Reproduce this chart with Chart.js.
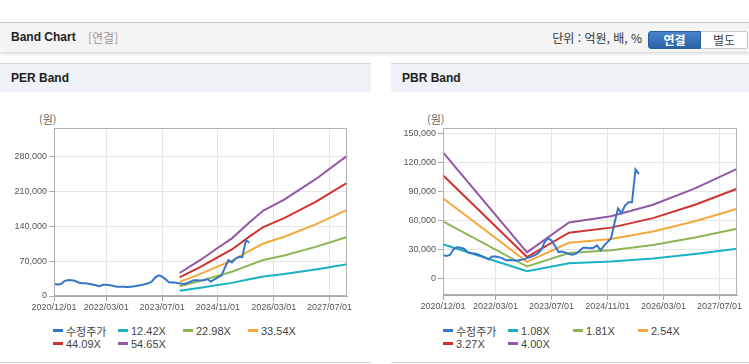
<!DOCTYPE html>
<html lang="ko">
<head>
<meta charset="utf-8">
<title>Band Chart</title>
<script src="https://cdn.jsdelivr.net/npm/chart.js@4.4.1/dist/chart.umd.min.js"></script>
<style>
  * { margin: 0; padding: 0; box-sizing: border-box; }
  html, body { width: 749px; height: 364px; overflow: hidden; background: #fff; }
  body { position: relative; font-family: "Liberation Sans", Arial, "Noto Sans CJK KR", sans-serif; color: #333; }

  /* Top bar */
  .band-head { position: absolute; left: 0; top: 22px; width: 749px; height: 30px; background: #f4f4f4; border-top: 1px solid #c4c4c4; box-shadow: 0 2px 3px rgba(0, 0, 0, 0.15); }
  .band-title { position: absolute; left: 11px; top: 0; line-height: 29px; font-size: 12px; font-weight: bold; color: #222; }
  .band-sub { position: absolute; left: 88px; top: 0; line-height: 29px; font-size: 12px; color: #999; font-family: "Noto Sans CJK KR", sans-serif; }
  .unit { position: absolute; right: 107px; top: 0; line-height: 29px; font-size: 12px; color: #333; font-family: "Noto Sans CJK KR", sans-serif; }
  .tab { position: absolute; top: 8px; height: 18px; line-height: 16px; font-size: 12px; text-align: center; font-family: "Noto Sans CJK KR", sans-serif; }
  .tab.on { left: 648px; width: 53px; background: linear-gradient(#4784ca, #2a62a7); border: 1px solid #285d9e; border-radius: 3px 0 0 3px; color: #fff; font-weight: bold; }
  .tab.off { left: 701px; width: 47px; background: #fff; border: 1px solid #c8c8c8; border-left: 0; border-radius: 0 3px 3px 0; color: #444; }

  /* Panels */
  .panel { position: absolute; top: 63px; height: 300px; background: #fff; border-top: 1px solid #d8d8d8; border-bottom: 1px solid #d0d0d0; }
  .panel-head { height: 28px; background: #eef1f6; padding-left: 11px; line-height: 28px; font-size: 12px; font-weight: bold; color: #222; }
  .panel canvas { position: absolute; left: 0; top: 28px; }
  .unit-label { position: absolute; top: 48px; line-height: 14px; font-size: 11px; color: #666; font-family: "Noto Sans CJK KR", sans-serif; }
  .legend { position: absolute; top: 260px; display: grid; grid-template-columns: repeat(4, 65px); grid-auto-rows: 13px; font-size: 11px; color: #444; }
  .legend-item { display: flex; align-items: center; white-space: nowrap; }
  .legend-item i { display: inline-block; width: 10px; height: 3px; margin-right: 3px; }
</style>
</head>
<body>
  <div class="band-head">
    <span class="band-title">Band Chart</span>
    <span class="band-sub">[연결]</span>
    <span class="unit">단위 : 억원, 배, %</span>
    <span class="tab on">연결</span>
    <span class="tab off">별도</span>
  </div>

  <div class="panel" style="left: 0; width: 371px;">
    <div class="panel-head">PER Band</div>
    <span class="unit-label" style="left: 39px;">(원)</span>
    <canvas id="perChart" width="371" height="224"></canvas>
    <div class="legend" id="perLegend" style="left: 53px;"></div>
  </div>

  <div class="panel" style="left: 391px; width: 358px;">
    <div class="panel-head">PBR Band</div>
    <span class="unit-label" style="left: 36px;">(원)</span>
    <canvas id="pbrChart" width="358" height="224"></canvas>
    <div class="legend" id="pbrLegend" style="left: 52px;"></div>
  </div>

<script>
// Monthly categories, 2020/12 .. 2027/12
const monthLabels = [];
for (let i = 0; i < 85; i++) {
  const year = 2020 + Math.floor((11 + i) / 12);
  const month = (11 + i) % 12 + 1;
  monthLabels.push(year + '/' + String(month).padStart(2, '0') + '/01');
}

// Dates shown on the x axis
const xTickLabels = ['2020/12/01', '2022/03/01', '2023/07/01', '2024/11/01', '2026/03/01', '2027/07/01'];

// Y axis ticks
const perYTicks = [0, 70000, 140000, 210000, 280000];
const pbrYTicks = [0, 30000, 60000, 90000, 120000, 150000];

// 수정주가, monthly from 2020/12 to 2025/08
const priceValues = [
  24000, 23000, 24000, 30000, 32000, 31500, 30500, 27000, 25800, 25500, 24500, 23000,
  21500, 19500, 22500, 22400, 21800, 20500, 18500, 18800, 18500, 18000, 18800, 19500,
  20800, 22000, 23500, 25500, 29000, 37000, 41500, 39000, 33500, 27000, 27500, 26500,
  25000, 24200, 25500, 28500, 31500, 31500, 31000, 31500, 34000, 29000, 33500, 37500,
  41000, 57000, 72000, 67500, 75000, 78500, 78500, 112500, 107500
];

// PER band lines
const perBandMonths = ['2023/12/01', '2024/06/01', '2024/11/01', '2025/03/01', '2025/08/01', '2025/12/01', '2026/06/01', '2027/03/01', '2027/12/01'];
const per1242 = [10500, 16500, 22000, 26400, 33600, 39100, 44100, 53400, 64100];
const per2298 = [19500, 30500, 40800, 48800, 62200, 72300, 81600, 98800, 118600];
const per3354 = [28400, 44500, 59500, 71200, 90800, 105600, 119100, 144200, 173100];
const per4409 = [37300, 58500, 78300, 93600, 119400, 138800, 156500, 189600, 227500];
const per5465 = [46300, 72500, 97000, 116000, 148000, 172000, 194000, 235000, 282000];

// PBR band lines
const pbrBandMonths = ['2020/12/01', '2022/12/01', '2023/12/01', '2024/12/01', '2025/12/01', '2026/12/01', '2027/12/01'];
const pbr108 = [35100, 7200, 15600, 17300, 20500, 25100, 30500];
const pbr181 = [58800, 12100, 26100, 29000, 34400, 42000, 51100];
const pbr254 = [82600, 17000, 36600, 40600, 48300, 58900, 71800];
const pbr327 = [106300, 21900, 47100, 52300, 62100, 75900, 92400];
const pbr400 = [130000, 26800, 57600, 64000, 76000, 92800, 113000];

const colors = {
  price: '#3577c6',
  teal: '#1bb1c5',
  green: '#8cb553',
  orange: '#f5a83c',
  red: '#d0332f',
  purple: '#9257a6'
};

const tickFont = { family: 'Liberation Sans', size: 9 };

// Box around the plot area
const plotFrame = {
  id: 'plotFrame',
  afterDraw(chart) {
    const { ctx, chartArea } = chart;
    const l = Math.round(chartArea.left) + 0.5;
    const t = Math.round(chartArea.top) + 0.5;
    const r = Math.round(chartArea.right) - 0.5;
    const b = Math.round(chartArea.bottom) - 0.5;
    ctx.save();
    ctx.strokeStyle = '#b2b2b2';
    ctx.lineWidth = 1;
    ctx.strokeRect(l, t, r - l, b - t);
    ctx.restore();
  }
};

function bandPoints(months, values) {
  return months.map((m, i) => ({ x: m, y: values[i] }));
}

function line(label, data, color) {
  return { label: label, data: data, borderColor: color, backgroundColor: color, borderWidth: 2, pointRadius: 0, tension: 0, fill: false };
}

function buildChart(canvasId, cfg) {
  return new Chart(document.getElementById(canvasId), {
    type: 'line',
    data: { labels: monthLabels, datasets: cfg.datasets },
    options: {
      responsive: false,
      animation: false,
      events: [],
      layout: { padding: { left: 0, right: cfg.padRight, top: 36, bottom: 0 } },
      plugins: { legend: { display: false }, tooltip: { enabled: false } },
      scales: {
        x: {
          ticks: { autoSkip: false, maxRotation: 0, padding: 1, color: '#555', font: tickFont },
          grid: { color: '#e6e6e6', tickColor: '#aaa', tickLength: 5 },
          border: { color: '#aaa' },
          afterBuildTicks: scale => {
            scale.ticks = xTickLabels.map(l => ({ value: monthLabels.indexOf(l) }));
          },
          afterFit: scale => { scale.height = cfg.xHeight; }
        },
        y: {
          min: cfg.min,
          max: cfg.max,
          ticks: {
            autoSkip: false,
            padding: 2,
            color: '#555',
            font: tickFont,
            callback: v => v.toLocaleString('en-US')
          },
          grid: { color: '#e6e6e6', tickColor: '#aaa', tickLength: 5 },
          border: { color: '#aaa' },
          afterBuildTicks: scale => {
            scale.ticks = cfg.yTicks.map(v => ({ value: v }));
          },
          afterFit: scale => { scale.width = cfg.yWidth; }
        }
      }
    },
    plugins: [plotFrame]
  });
}

// HTML legend in fixed columns
function renderLegend(elId, chart) {
  const el = document.getElementById(elId);
  chart.data.datasets.forEach(ds => {
    const item = document.createElement('span');
    item.className = 'legend-item';
    item.innerHTML = '<i style="background:' + ds.borderColor + '"></i>' + ds.label;
    el.appendChild(item);
  });
}

function init() {
  const perChart = buildChart('perChart', {
    min: 0, max: 338000, yTicks: perYTicks,
    yWidth: 54, xHeight: 20, padRight: 24,
    datasets: [
      line('수정주가', priceValues, colors.price),
      line('12.42X', bandPoints(perBandMonths, per1242), colors.teal),
      line('22.98X', bandPoints(perBandMonths, per2298), colors.green),
      line('33.54X', bandPoints(perBandMonths, per3354), colors.orange),
      line('44.09X', bandPoints(perBandMonths, per4409), colors.red),
      line('54.65X', bandPoints(perBandMonths, per5465), colors.purple)
    ]
  });

  const pbrChart = buildChart('pbrChart', {
    min: -17300, max: 155200, yTicks: pbrYTicks,
    yWidth: 52, xHeight: 21, padRight: 12,
    datasets: [
      line('수정주가', priceValues, colors.price),
      line('1.08X', bandPoints(pbrBandMonths, pbr108), colors.teal),
      line('1.81X', bandPoints(pbrBandMonths, pbr181), colors.green),
      line('2.54X', bandPoints(pbrBandMonths, pbr254), colors.orange),
      line('3.27X', bandPoints(pbrBandMonths, pbr327), colors.red),
      line('4.00X', bandPoints(pbrBandMonths, pbr400), colors.purple)
    ]
  });

  renderLegend('perLegend', perChart);
  renderLegend('pbrLegend', pbrChart);
}

init();
</script>
</body>
</html>
